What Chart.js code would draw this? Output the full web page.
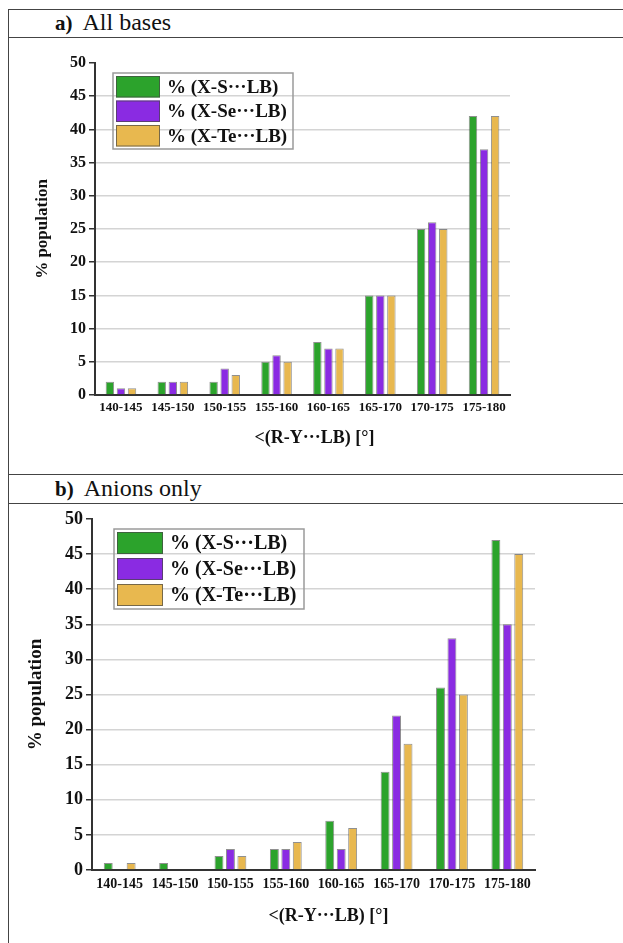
<!DOCTYPE html>
<html>
<head>
<meta charset="utf-8">
<script src="https://cdn.jsdelivr.net/npm/chart.js@4/dist/chart.umd.min.js"></script>
<style>
  html, body { margin: 0; padding: 0; background: #fff; }
  body { width: 623px; height: 943px; position: relative; overflow: hidden; font-family: "Liberation Serif", serif; }
  .hl { position: absolute; left: 8px; right: 0; height: 0; border-top: 1.5px solid #444; }
  .vl { position: absolute; left: 8px; top: 9px; bottom: 0; width: 0; border-left: 1.5px solid #444; }
  .hdr { position: absolute; white-space: nowrap; color: #111; line-height: 28px; }
  .hdr b { font-size: 21px; margin-right: 10px; }
  .hdr span { font-size: 24px; }
  .cv { position: absolute; }
</style>
</head>
<body>
<div class="vl"></div>
<div class="hl" style="top:9px"></div>
<div class="hl" style="top:37px"></div>
<div class="hl" style="top:474px"></div>
<div class="hl" style="top:503px"></div>
<div class="hdr" style="left:55px; top:8px;"><b>a)</b><span>All bases</span></div>
<div class="hdr" style="left:55px; top:474px;"><b>b)</b><span>Anions only</span></div>
<div class="cv" style="left:10px; top:40px; width:610px; height:430px;"><canvas id="ca"></canvas></div>
<div class="cv" style="left:10px; top:505px; width:610px; height:435px;"><canvas id="cb"></canvas></div>
<script>
// ---- data ----
const categories = ["140-145", "145-150", "150-155", "155-160", "160-165", "165-170", "170-175", "175-180"];
const seriesNames = ["% (X-S\u00B7\u00B7\u00B7LB)", "% (X-Se\u00B7\u00B7\u00B7LB)", "% (X-Te\u00B7\u00B7\u00B7LB)"];
const allS  = [2, 2, 2, 5, 8, 15, 25, 42];
const allSe = [1, 2, 4, 6, 7, 15, 26, 37];
const allTe = [1, 2, 3, 5, 7, 15, 25, 42];
const anS  = [1, 1, 2, 3, 7, 14, 26, 47];
const anSe = [0, 0, 3, 3, 3, 22, 33, 35];
const anTe = [1, 0, 2, 4, 6, 18, 25, 45];
const yTitle = "% population";
const xTitle = "<(R-Y\u00B7\u00B7\u00B7LB) [\u00B0]";

const colors = ["#2ca32c", "#8a2be2", "#e8b84f"];
const FONT = "Liberation Serif";

const boxLegend = {
  id: 'boxLegend',
  afterDatasetsDraw(chart, args, o) {
    const ctx = chart.ctx, a = chart.chartArea;
    const x0 = a.left + o.dx, y0 = a.top + o.dy;
    ctx.save();
    ctx.strokeStyle = '#9a9a9a';
    ctx.lineWidth = 1.5;
    ctx.strokeRect(x0, y0, o.w, o.h);
    chart.data.datasets.forEach((ds, i) => {
      const sy = y0 + o.pad + i * o.rowH;
      ctx.fillStyle = ds.backgroundColor;
      ctx.fillRect(x0 + o.pad, sy, o.sw, o.sh);
      ctx.strokeStyle = 'rgba(70,70,70,0.7)';
      ctx.lineWidth = 1;
      ctx.strokeRect(x0 + o.pad + 0.5, sy + 0.5, o.sw - 1, o.sh - 1);
      ctx.fillStyle = '#111';
      ctx.font = 'bold ' + o.fontSize + 'px "' + FONT + '"';
      ctx.textBaseline = 'middle';
      ctx.textAlign = 'left';
      ctx.fillText(ds.label, x0 + o.textX, sy + o.sh / 2 + 1);
    });
    // x-axis title
    ctx.fillStyle = '#111';
    ctx.font = 'bold ' + o.xTitleSize + 'px "' + FONT + '"';
    ctx.textAlign = 'center';
    ctx.textBaseline = 'middle';
    ctx.fillText(o.xTitle, (a.left + a.right) / 2 + o.xTitleDx, a.bottom + o.xTitleDy);
    ctx.restore();
  }
};

function makeChart(id, vals, p) {
  const datasets = vals.map((v, i) => ({
    label: seriesNames[i],
    data: v,
    backgroundColor: colors[i],
    borderColor: 'rgba(70,70,70,0.6)',
    borderWidth: 1,
    categoryPercentage: p.cp,
    barPercentage: p.bp
  }));
  return new Chart(document.getElementById(id), {
    type: 'bar',
    data: { labels: categories, datasets },
    plugins: [boxLegend],
    options: {
      responsive: true,
      maintainAspectRatio: false,
      animation: false,
      layout: { padding: { left: 0, top: p.top, right: p.right, bottom: 0 } },
      plugins: {
        legend: { display: false },
        tooltip: { enabled: false },
        boxLegend: Object.assign({ xTitle: xTitle }, p.legend)
      },
      scales: {
        x: {
          grid: { display: false, drawTicks: false },
          border: { display: true, color: '#333', width: 2 },
          ticks: { color: '#111', padding: p.xTickPad, maxRotation: 0, autoSkip: false,
                   font: { family: FONT, size: p.xTickSize, weight: 'bold' } },
          title: { display: false },
          afterFit: s => { s.height = p.xH; }
        },
        y: {
          min: 0, max: 50,
          ticks: { stepSize: 5, color: '#111', padding: 3,
                   font: { family: FONT, size: p.yTickSize, weight: 'bold' } },
          grid: {
            color: c => (c.tick && (c.tick.value === 0 || c.tick.value === 50)) ? 'rgba(0,0,0,0)' : '#d4d4d4',
            lineWidth: 1.5,
            tickColor: '#333',
            tickLength: 6,
            drawTicks: true
          },
          border: { display: true, color: '#333', width: 2 },
          title: { display: true, text: yTitle, color: '#111',
                   font: { family: FONT, size: p.yTitleSize, weight: 'bold' },
                   padding: { top: p.yTitlePad, bottom: 0 } },
          afterFit: s => { s.width = p.yW; }
        }
      }
    }
  });
}

makeChart('ca', [allS, allSe, allTe], {
  cp: 0.64, bp: 0.76, top: 23, right: 110, xH: 75, yW: 85,
  xTickPad: 5, xTickSize: 13, yTickSize: 16, yTitleSize: 17, yTitlePad: 22,
  legend: { dx: 18, dy: 10, w: 180, h: 76, pad: 3, sw: 44, sh: 21.5, rowH: 24.5, textX: 54, fontSize: 19,
            xTitleSize: 18, xTitleDx: 12, xTitleDy: 43 }
});
makeChart('cb', [anS, anSe, anTe], {
  cp: 0.62, bp: 0.78, top: 14, right: 85, xH: 70, yW: 82,
  xTickPad: 6, xTickSize: 14, yTickSize: 18, yTitleSize: 19, yTitlePad: 15,
  legend: { dx: 22, dy: 10, w: 190, h: 80, pad: 3, sw: 46, sh: 22, rowH: 26, textX: 56, fontSize: 20,
            xTitleSize: 18, xTitleDx: 15, xTitleDy: 46 }
});
</script>
</body>
</html>
